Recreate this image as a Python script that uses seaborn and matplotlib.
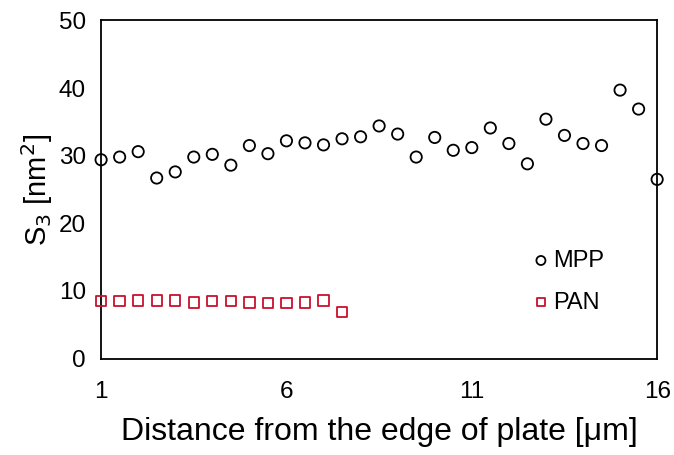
import matplotlib
matplotlib.use("Agg")
import matplotlib.pyplot as plt
import seaborn as sns
import numpy as np

# distance from plate edge [um]
mpp_x = [1, 1.5, 2, 2.5, 3, 3.5, 4, 4.5, 5, 5.5, 6, 6.5, 7, 7.5, 8, 8.5,
         9, 9.5, 10, 10.5, 11, 11.5, 12, 12.5, 13, 13.5, 14, 14.5, 15, 15.5, 16]
mpp_s3 = [29.4, 29.8, 30.6, 26.7, 27.6, 29.8, 30.2, 28.6, 31.5, 30.3, 32.2, 31.9,
          31.6, 32.5, 32.8, 34.4, 33.2, 29.8, 32.7, 30.8, 31.2, 34.1, 31.8, 28.8,
          35.4, 33.0, 31.8, 31.5, 39.7, 36.9, 26.5]

pan_x = [1, 1.5, 2, 2.5, 3, 3.5, 4, 4.5, 5, 5.5, 6, 6.5, 7, 7.5]
pan_s3 = [8.5, 8.5, 8.6, 8.6, 8.6, 8.3, 8.5, 8.5, 8.3, 8.2, 8.2, 8.3, 8.6, 6.9]

x_ticks = [1, 6, 11, 16]
y_ticks = [0, 10, 20, 30, 40, 50]

sns.set_style("white")
plt.rcParams['font.family'] = ['Liberation Sans', 'DejaVu Sans']
plt.rcParams['text.color'] = 'black'
plt.rcParams['axes.labelcolor'] = 'black'

fig = plt.figure(figsize=(6.74, 4.55), dpi=100)
ax = fig.add_axes([0.150, 0.212, 0.825, 0.743])

sns.scatterplot(x=mpp_x, y=mpp_s3, ax=ax, marker='o', s=66, facecolors='none',
                edgecolor='black', linewidth=1.3, label='MPP', clip_on=False, zorder=3)
sns.scatterplot(x=pan_x, y=pan_s3, ax=ax, marker='s', s=55, facecolors='none',
                edgecolor='#C8102E', linewidth=1.3, label='PAN', clip_on=False, zorder=3)

ax.set_xlim(1, 16)
ax.set_ylim(0, 50)
ax.set_xticks(x_ticks)
ax.set_yticks(y_ticks)
ax.tick_params(axis='both', direction='in', length=5, width=1.2, labelsize=17.5,
               colors='black')
ax.tick_params(axis='y', pad=11)
ax.tick_params(axis='x', pad=16)
for sp in ax.spines.values():
    sp.set_color('black')
    sp.set_linewidth(1.3)

ax.set_xlabel('Distance from the edge of plate [\u03bcm]', fontsize=23, labelpad=10)
ax.set_ylabel('S$_3$ [nm$^2$]', fontsize=21, labelpad=3)

ax.legend(loc='upper left', bbox_to_anchor=(0.774, 0.322), frameon=False, fontsize=17,
          borderpad=0, borderaxespad=0, handletextpad=0.1, labelspacing=0.84,
          markerscale=0.8, handlelength=0.8)

fig.savefig('out.png', dpi=100)
